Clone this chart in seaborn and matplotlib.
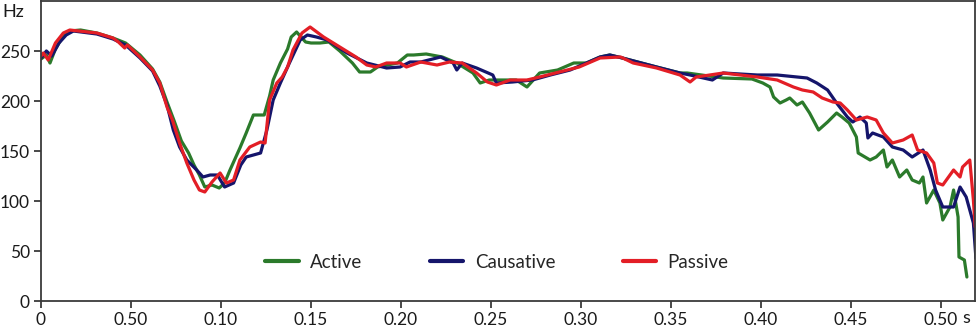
import matplotlib
matplotlib.use("Agg")
import matplotlib.pyplot as plt
import seaborn as sns
import pandas as pd

# ---- data (time in s, F0 in Hz) ----
active_t = [0, 0.003, 0.005, 0.008, 0.012, 0.016, 0.022, 0.031, 0.040, 0.047, 0.055, 0.062, 0.066,
            0.070, 0.074, 0.078, 0.082, 0.085, 0.088, 0.091, 0.095, 0.099, 0.102, 0.105, 0.1105, 0.114,
            0.118, 0.124, 0.127, 0.129, 0.133, 0.137, 0.139, 0.142, 0.147, 0.150, 0.155, 0.160, 0.166,
            0.173, 0.177, 0.183, 0.187, 0.198, 0.2035, 0.207, 0.214, 0.223, 0.231, 0.240, 0.244, 0.249,
            0.264, 0.270, 0.277, 0.287, 0.296, 0.303, 0.3106, 0.316, 0.323, 0.342, 0.355, 0.359, 0.379,
            0.395, 0.401, 0.405, 0.407, 0.4106, 0.414, 0.416, 0.420, 0.423, 0.427, 0.432, 0.437, 0.442,
            0.445, 0.449, 0.453, 0.454, 0.4606, 0.464, 0.468, 0.470, 0.473, 0.477, 0.481, 0.484, 0.488,
            0.490, 0.492, 0.496, 0.4994, 0.501, 0.505, 0.507, 0.5095, 0.510, 0.513, 0.5144]
active_hz = [242, 246, 238, 252, 264, 270, 271, 268, 263, 258, 246, 232, 219,
             199, 180, 160, 148, 136, 126, 114, 116, 113, 118, 131, 153, 168,
             186, 186, 205, 221, 238, 252, 264, 269, 259, 258, 258, 259, 250,
             238, 229, 229, 234, 238, 246, 246, 247, 244, 238, 228, 218, 221,
             221, 214, 228, 231, 238, 238, 244, 246, 243, 234, 228, 228, 223,
             222, 218, 214, 204, 198, 201, 203, 196, 199, 188, 171, 179, 188,
             184, 178, 164, 148, 141, 144, 151, 134, 141, 124, 131, 121, 118,
             124, 98, 111, 98, 81, 94, 111, 84, 44, 41, 24]

causative_t = [0, 0.003, 0.006, 0.010, 0.014, 0.018, 0.031, 0.040, 0.047, 0.055, 0.062, 0.066, 0.070,
               0.0735, 0.077, 0.081, 0.0865, 0.090, 0.094, 0.098, 0.102, 0.107, 0.111, 0.114, 0.118,
               0.122, 0.1255, 0.129, 0.133, 0.138, 0.144, 0.148, 0.153, 0.159, 0.170, 0.181, 0.192,
               0.1995, 0.205, 0.211, 0.222, 0.229, 0.231, 0.234, 0.242, 0.251, 0.253, 0.262, 0.273,
               0.283, 0.294, 0.303, 0.3106, 0.316, 0.323, 0.342, 0.355, 0.3606, 0.368, 0.373, 0.379,
               0.398, 0.409, 0.4256, 0.431, 0.437, 0.442, 0.448, 0.451, 0.455, 0.4585, 0.4594, 0.462,
               0.468, 0.473, 0.479, 0.484, 0.490, 0.494, 0.497, 0.501, 0.507, 0.5106, 0.514, 0.518,
               0.5194]
causative_hz = [243, 250, 245, 258, 266, 270, 267, 262, 256, 243, 230, 215, 196,
                171, 154, 141, 131, 124, 126, 126, 114, 118, 136, 144, 146,
                148, 171, 201, 218, 238, 261, 266, 264, 261, 248, 238, 233,
                234, 239, 239, 244, 238, 231, 238, 233, 226, 218, 219, 221,
                226, 231, 238, 244, 246, 243, 234, 228, 226, 223, 221, 228,
                226, 226, 223, 218, 211, 198, 184, 179, 184, 178, 163, 168,
                164, 154, 151, 144, 151, 131, 111, 94, 94, 114, 104, 78,
                43]

passive_t = [0, 0.0013, 0.004, 0.008, 0.0124, 0.016, 0.031, 0.040, 0.043, 0.0465, 0.048, 0.055,
             0.062, 0.066, 0.070, 0.073, 0.077, 0.081, 0.085, 0.088, 0.091, 0.095, 0.0995, 0.103,
             0.107, 0.1105, 0.116, 0.122, 0.1245, 0.127, 0.131, 0.134, 0.137, 0.140, 0.145, 0.1495,
             0.157, 0.166, 0.175, 0.181, 0.186, 0.192, 0.1995, 0.203, 0.211, 0.220, 0.227, 0.234,
             0.242, 0.248, 0.253, 0.2606, 0.270, 0.277, 0.288, 0.299, 0.3106, 0.322, 0.329, 0.342,
             0.355, 0.3606, 0.364, 0.379, 0.398, 0.409, 0.418, 0.423, 0.429, 0.434, 0.440, 0.444,
             0.448, 0.453, 0.459, 0.464, 0.468, 0.473, 0.479, 0.484, 0.487, 0.492, 0.496, 0.498,
             0.501, 0.507, 0.5106, 0.512, 0.516, 0.518, 0.519]
passive_hz = [245, 248, 241, 258, 268, 271, 268, 263, 259, 253, 256, 244,
              231, 218, 194, 181, 158, 138, 121, 111, 109, 119, 128, 118,
              121, 141, 154, 159, 158, 201, 218, 224, 234, 251, 268, 274,
              264, 254, 244, 236, 234, 238, 238, 234, 239, 236, 239, 238,
              228, 219, 216, 221, 221, 224, 229, 234, 243, 244, 238, 233,
              226, 219, 224, 228, 224, 221, 214, 211, 209, 203, 199, 198,
              191, 181, 184, 181, 168, 158, 161, 166, 151, 148, 138, 118,
              116, 131, 124, 134, 141, 101, 74]

series_names = ["Active", "Causative", "Passive"]
x_ticks = [0, 0.05, 0.10, 0.15, 0.20, 0.25, 0.30, 0.35, 0.40, 0.45, 0.50]
x_tick_labels = ["0", "0.50", "0.10", "0.15", "0.20", "0.25", "0.30", "0.35", "0.40", "0.45", "0.50"]
y_ticks = [0, 50, 100, 150, 200, 250]

frames = []
for name, t, hz in zip(series_names, [active_t, causative_t, passive_t],
                       [active_hz, causative_hz, passive_hz]):
    frames.append(pd.DataFrame({"time": t, "hz": hz, "series": name}))
df = pd.concat(frames, ignore_index=True)

sns.set_theme(style="white")
plt.rcParams["font.family"] = ["Lato", "DejaVu Sans"]

fig = plt.figure(figsize=(9.78, 3.30), dpi=100)
ax = fig.add_axes([41 / 978, 1 - 301 / 330, 934 / 978, 300 / 330])

palette = {"Active": "#2b7a2b", "Causative": "#15156b", "Passive": "#e31e26"}
sns.lineplot(data=df, x="time", y="hz", hue="series", hue_order=series_names,
             palette=palette, estimator=None, sort=True, linewidth=2.3, ax=ax)

ax.set_xlim(0, 0.5189)
ax.set_ylim(0, 300)
ax.set_xticks(x_ticks)
ax.set_xticklabels(x_tick_labels)
ax.set_yticks(y_ticks)
ax.set_xlabel("")
ax.set_ylabel("")
for sp in ax.spines.values():
    sp.set_color("#3a3a3a")
    sp.set_linewidth(1.3)
    sp.set_visible(True)
ax.tick_params(axis="both", direction="out", length=5, width=1.3, color="#3a3a3a",
               labelsize=12.5, labelcolor="#1a1a1a", pad=3)
ax.tick_params(axis="x", bottom=True)
ax.tick_params(axis="y", left=True)

fig.text(2 / 978, 1 - 12 / 330, "Hz", fontsize=13, color="#1a1a1a", ha="left", va="center")
fig.text(962 / 978, 1 - 318 / 330, "s", fontsize=13, color="#1a1a1a", ha="left", va="center")

leg = ax.legend(loc="center", bbox_to_anchor=(0.488, 0.13), ncol=3, frameon=False,
                fontsize=13.5, handlelength=1.8, handletextpad=0.6, columnspacing=3.6)
for line in leg.get_lines():
    line.set_linewidth(3)

fig.savefig("out.png", dpi=100)
